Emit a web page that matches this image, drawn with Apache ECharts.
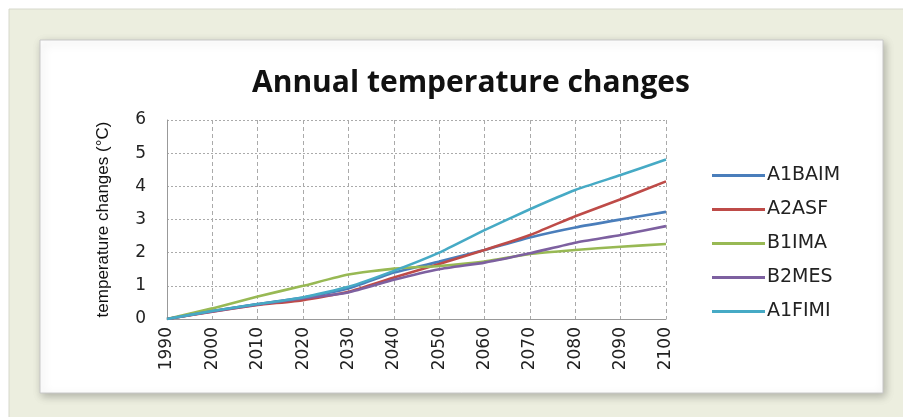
<!DOCTYPE html>
<html>
<head>
<meta charset="utf-8">
<script src="https://cdn.jsdelivr.net/npm/echarts@6/dist/echarts.min.js"></script>
<style>
html,body{margin:0;padding:0;background:#fff;}
#c{width:903px;height:417px;}
</style>
</head>
<body>
<div id="c"></div>
<script>
const years = ['1990','2000','2010','2020','2030','2040','2050','2060','2070','2080','2090','2100'];
const A1BAIM = [0, 0.24, 0.45, 0.65, 0.92, 1.40, 1.73, 2.08, 2.46, 2.76, 3.00, 3.23];
const A2ASF  = [0, 0.22, 0.42, 0.57, 0.82, 1.25, 1.66, 2.08, 2.53, 3.10, 3.61, 4.15];
const B1IMA  = [0, 0.32, 0.68, 1.00, 1.34, 1.52, 1.60, 1.73, 1.96, 2.08, 2.18, 2.26];
const B2MES  = [0, 0.23, 0.44, 0.62, 0.80, 1.18, 1.50, 1.70, 1.98, 2.30, 2.53, 2.80];
const A1FIMI = [0, 0.24, 0.45, 0.65, 0.97, 1.45, 2.00, 2.68, 3.31, 3.89, 4.34, 4.81];
const yTicks = [0,1,2,3,4,5,6];
const seriesNames = ['A1BAIM','A2ASF','B1IMA','B2MES','A1FIMI'];
const seriesData = [A1BAIM, A2ASF, B1IMA, B2MES, A1FIMI];
const colors = ['#4A7EBB','#BE4B48','#98B954','#7D60A0','#46AAC5'];

const chart = echarts.init(document.getElementById('c'), null, {renderer:'canvas'});
const option = {
  animation:false,
  graphic:[
    {type:'rect', z:-10, silent:true, shape:{x:9,y:9,width:900,height:420},
     style:{fill:'#eceedf', stroke:'#d6d8cc', lineWidth:1}},
    {type:'rect', z:-9, silent:true, shape:{x:40,y:40,width:843,height:353},
     style:{fill:'#ffffff', stroke:'#c8c8c8', lineWidth:1,
            shadowBlur:8, shadowColor:'rgba(0,0,0,0.25)', shadowOffsetX:2, shadowOffsetY:3}}
  ],
  title:{
    text:'Annual temperature changes', left:466, top:63, textAlign:'center',
    textStyle:{fontFamily:'Open Sans', fontWeight:'bold', fontSize:30, color:'#111'}
  },
  legend:{
    orient:'vertical', left:707, top:161, itemGap:15, itemWidth:53, itemHeight:3,
    icon:'rect',
    data:seriesNames,
    textStyle:{fontFamily:'DejaVu Sans', fontSize:19, color:'#222', padding:[0,0,0,-3]}
  },
  grid:{left:167, top:120, right:237, bottom:98, containLabel:false},
  xAxis:{
    type:'category', data:years, boundaryGap:false,
    axisLine:{lineStyle:{color:'#999', width:1}},
    axisTick:{show:false},
    axisLabel:{rotate:90, margin:8, fontFamily:'DejaVu Sans', fontSize:17, color:'#222'},
    splitLine:{show:true, lineStyle:{color:'#aaa', type:[4,3], width:1}}
  },
  yAxis:{
    type:'value', min:yTicks[0], max:yTicks[yTicks.length-1], interval:1,
    name:'temperature changes (°C)', nameLocation:'middle', nameGap:55, nameRotate:90,
    nameTextStyle:{fontFamily:'Liberation Sans', fontSize:17, color:'#111'},
    axisLine:{show:true, lineStyle:{color:'#999', width:1}},
    axisTick:{show:false},
    axisLabel:{margin:21, fontFamily:'DejaVu Sans', fontSize:17, color:'#222'},
    splitLine:{show:true, lineStyle:{color:'#aaa', type:[2,2], width:1}}
  },
  series: seriesNames.map((n,i)=>({
    name:n, type:'line', data:seriesData[i], showSymbol:false, symbol:'none',
    smooth:0.15, lineStyle:{color:colors[i], width:2.6}, itemStyle:{color:colors[i]}
  }))
};
chart.setOption(option);
</script>
</body>
</html>
